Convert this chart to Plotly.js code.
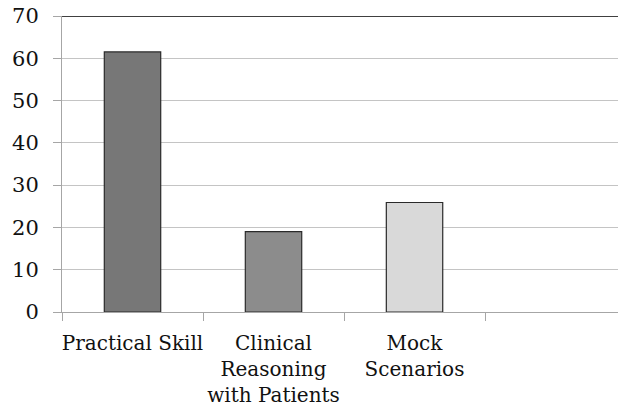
<!DOCTYPE html>
<html>
<head>
<meta charset="utf-8">
<script src="https://cdn.plot.ly/plotly-3.0.1.min.js"></script>
<style>html,body{margin:0;padding:0;background:#fff;}#chart{width:618px;height:413px;}</style>
</head>
<body>
<div id="chart"></div>
<script>
var categories = ["Practical Skill", "Clinical<br>Reasoning<br>with Patients", "Mock<br>Scenarios", " "];
var values = [61.5, 19.0, 25.9, null];
var barColors = ["#777777", "#8c8c8c", "#d9d9d9", "#ffffff"];
var yTicks = [0, 10, 20, 30, 40, 50, 60, 70];

var FONT = "DejaVu Serif";

var trace = {
  type: "bar",
  x: categories,
  y: values,
  width: 0.4,
  marker: { color: barColors, line: { color: "#2a2a2a", width: 1.2 } },
  hoverinfo: "none"
};

var layout = {
  width: 618,
  height: 413,
  margin: { l: 62, r: 0, t: 16, b: 101, pad: 0 },
  paper_bgcolor: "#ffffff",
  plot_bgcolor: "#ffffff",
  font: { family: FONT, size: 20, color: "#111111" },
  showlegend: false,
  xaxis: {
    type: "category",
    categoryorder: "array",
    categoryarray: categories,
    range: [-0.5, 3.443],
    tickson: "boundaries",
    ticks: "outside",
    ticklen: 8,
    tickcolor: "#a6a6a6",
    tickangle: 0,
    ticklabelstandoff: 13,
    automargin: false,
    showgrid: false,
    showline: true,
    linecolor: "#a6a6a6",
    linewidth: 1,
    zeroline: false,
    tickfont: { family: FONT, size: 20 },
    fixedrange: true
  },
  yaxis: {
    range: [0, 70],
    tickvals: yTicks,
    ticktext: yTicks.map(String),
    ticks: "outside",
    ticklen: 8,
    tickcolor: "#a6a6a6",
    ticklabelstandoff: 10,
    automargin: false,
    showgrid: true,
    gridcolor: "#c4c4c4",
    gridwidth: 1,
    showline: true,
    linecolor: "#a6a6a6",
    linewidth: 1,
    zeroline: false,
    tickfont: { family: FONT, size: 21 },
    fixedrange: true
  },
  shapes: [{
    type: "line", xref: "paper", yref: "y",
    x0: 0, x1: 1, y0: 70, y1: 70,
    line: { color: "#000000", width: 1.3 }
  }]
};

Plotly.newPlot("chart", [trace], layout, { displayModeBar: false, staticPlot: true });
</script>
</body>
</html>
